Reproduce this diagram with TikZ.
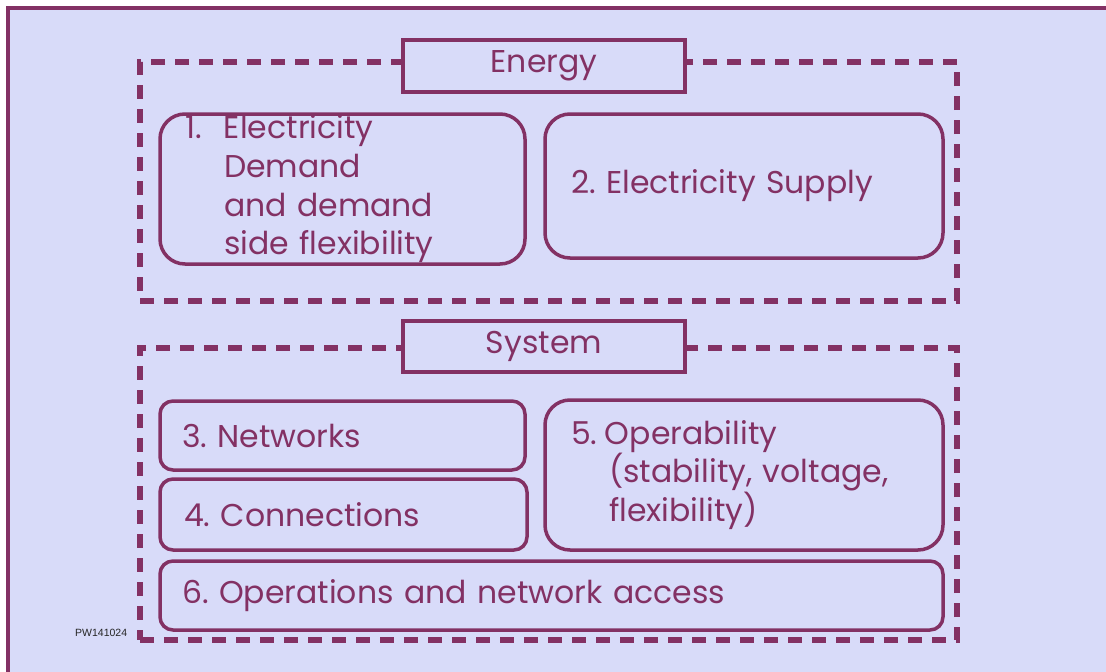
\documentclass[tikz,border=0pt]{standalone}
\usepackage{fontspec}
\setmainfont{Poppins}
\newfontfamily\tagfont{Liberation Sans}
\definecolor{plum}{HTML}{833164}
\definecolor{lavender}{HTML}{D8DBF9}
\newcommand{\bigtext}{\fontsize{31.5}{38.7}\selectfont}
\frenchspacing

\begin{document}
\begin{tikzpicture}[x=1pt, y=-1pt,
    areabox/.style={draw=plum, line width=5.5pt, dash pattern=on 14pt off 10pt, inner sep=0pt},
    titlebox/.style={draw=plum, fill=lavender, line width=3.5pt, minimum width=282pt,
        minimum height=52pt, inner sep=0pt, text=plum, font=\bigtext},
    itembox/.style={draw=plum, line width=3.5pt, rounded corners=#1, align=left,
        text=plum, font=\bigtext, inner ysep=0pt},
]
    % Page and outer frame
    \useasboundingbox (0,0) rectangle (1106,672);
    \fill[white] (0,0) rectangle (1106,672);
    \clip (0,0) rectangle (1106,672);
    \draw[draw=plum, fill=lavender, line width=4pt] (7.5,7.5) rectangle (1120,690);

    % Energy group
    \node[areabox, minimum width=817pt, minimum height=239pt] (energyarea) at (548.5,181.5) {};
    \node[titlebox] (energy) at (544,66) {Energy};
    \node[itembox=25pt, minimum width=365pt, minimum height=150pt, text width=315pt, inner xsep=25pt]
        (demand) at (342.5,189)
        {\makebox[39pt][l]{1.}Electricity\\\hspace*{39pt}Demand\\\hspace*{39pt}and demand\\\hspace*{39pt}side flexibility};
    \node[itembox=25pt, minimum width=398pt, minimum height=144pt, text width=346pt, inner xsep=26pt]
        (supply) at (744,186) {2. Electricity Supply};

    % System group
    \node[areabox, minimum width=817pt, minimum height=292pt] (systemarea) at (548.5,494) {};
    \node[titlebox, minimum height=51pt] (system) at (544,346.5) {System};
    \node[itembox=13pt, minimum width=365pt, minimum height=69pt, text width=321pt, inner xsep=22pt]
        (networks) at (342.5,435.5) {3. Networks};
    \node[itembox=13pt, minimum width=367pt, minimum height=71pt, text width=319pt, inner xsep=24pt]
        (connections) at (343.5,514.5) {4. Connections};
    \node[itembox=25pt, minimum width=398pt, minimum height=150pt, text width=346pt, inner xsep=26pt]
        (operability) at (744,475)
        {\makebox[34pt][l]{5.}Operability\\\hspace*{38pt}(stability, voltage,\\\hspace*{38pt}flexibility)};
    \node[itembox=13pt, minimum width=783pt, minimum height=69pt, text width=739pt, inner xsep=22pt]
        (operations) at (551.5,595.5) {6. Operations and network access};

    % Drawing tag
    \node[anchor=base west, inner sep=0pt, text=black!85, font=\tagfont\fontsize{10.5}{12}\selectfont]
        (tag) at (75,636) {PW141024};
\end{tikzpicture}
\end{document}
